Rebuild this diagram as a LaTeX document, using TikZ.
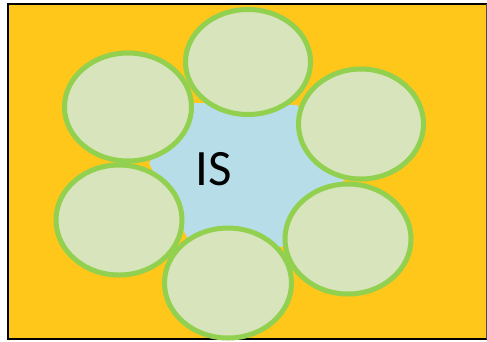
\documentclass[tikz,border=0pt]{standalone}
\usepackage{fontspec}
\setmainfont{Carlito}
\usetikzlibrary{shapes.geometric, positioning, calc}
\definecolor{isorange}{RGB}{255, 199, 26}
\definecolor{isblue}{RGB}{183, 222, 232}
\definecolor{cellfill}{RGB}{216, 228, 188}
\definecolor{cellline}{RGB}{146, 208, 80}

\tikzset{
    cell/.style={ellipse, fill=cellfill, draw=cellline, line width=5pt, inner sep=0pt}
}

\begin{document}
\begin{tikzpicture}[x=1pt, y=-1pt]
            \useasboundingbox (0,0) rectangle (487,341);
            % frame
            \fill[white] (0,0) rectangle (487,341);
            \draw[fill=isorange, line width=2pt] (8,4) rectangle (487,339);
            \draw[line width=0.8pt, black!70] (486.6,4) -- (486.6,339);
            % inner space
            \fill[isblue] (193,103) -- (297,105) -- (344,180) -- (283,247)
                -- (187,237) -- (149,163) -- cycle;
            % cells round the space
            \node[cell, minimum width=125pt, minimum height=105pt] (cellTop) at (248,62) {};
            \node[cell, minimum width=127pt, minimum height=108pt] (cellUL) at (128,107) {};
            \node[cell, minimum width=125pt, minimum height=110pt] (cellUR) at (361,124) {};
            \node[cell, minimum width=126pt, minimum height=110pt] (cellLL) at (119,220) {};
            \node[cell, minimum width=126pt, minimum height=110pt] (cellLR) at (348,239) {};
            \node[cell, minimum width=127pt, minimum height=110pt] (cellBot) at (228,283) {};
            \node (label) at (214,169) {\fontsize{51}{60}\selectfont IS};
        \end{tikzpicture}
\end{document}
